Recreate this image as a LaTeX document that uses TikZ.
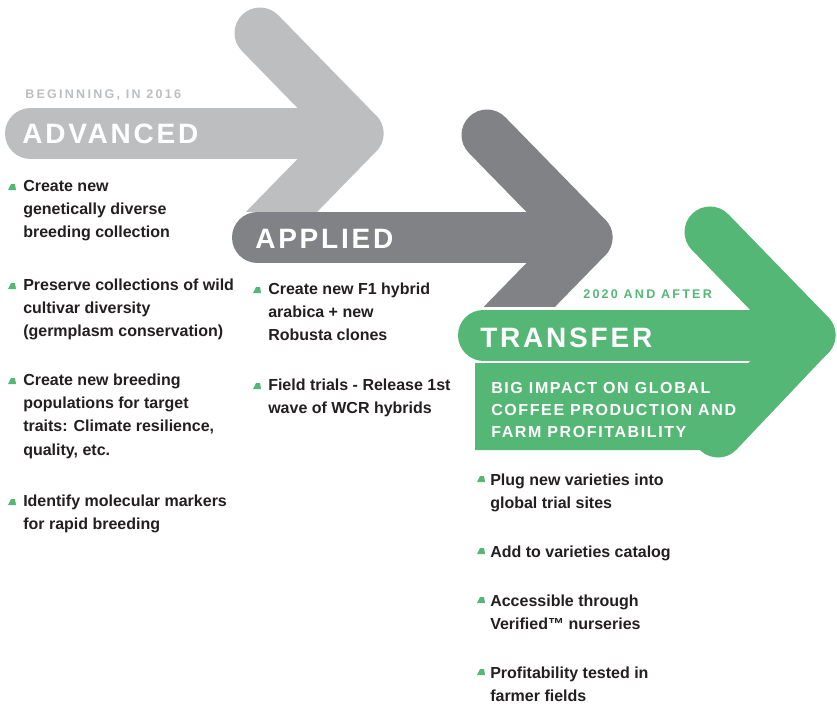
\documentclass[tikz,border=0pt]{standalone}
\usepackage{fontspec}
\setmainfont{Liberation Sans}
\newfontfamily\stagefont{Liberation Sans}[LetterSpace=10]
\newfontfamily\boxfont{Liberation Sans}[LetterSpace=10]
\newfontfamily\tagfont{Liberation Sans}[LetterSpace=18]
\definecolor{lightarrow}{HTML}{BCBEC0}
\definecolor{darkarrow}{HTML}{808285}
\definecolor{greenarrow}{HTML}{55B776}
\definecolor{ink}{HTML}{231F20}
\newcommand\bulletlines[1]{\begin{tabular}[t]{@{}l@{}}#1\end{tabular}}
\begin{document}
\begin{tikzpicture}[x=0.75pt,y=-0.75pt,
  arrowband/.style={line width=38.25pt, line cap=round, line join=round},
  stage/.style={font={\fontsize{21}{21}\selectfont\stagefont\bfseries}, text=white, anchor=base west, inner sep=0},
  tag/.style={font={\fontsize{9.4}{10}\selectfont\tagfont\bfseries}, anchor=base west, inner sep=0},
  boxtext/.style={font={\fontsize{12}{16.9}\selectfont\boxfont\bfseries}, text=white, anchor=base west, inner sep=0},
  bullettext/.style={font={\fontsize{12}{17.6}\selectfont\bfseries}, text=ink, anchor=base west, inner sep=0},
  bulletmark/.pic={\fill[greenarrow] (-4,3) -- (-1,-3) -- (3,-3) -- (4,3) -- cycle;}
]
\useasboundingbox (0,0) rectangle (837,707);
\fill[white] (0,0) rectangle (837,707);

% light grey arrow (ADVANCED)
\begin{scope}
  \clip (0,0) rectangle (837,211);
  \draw[arrowband, lightarrow] (260,33) -- (358,133.5) -- (258,236);
  \draw[arrowband, lightarrow] (30.5,133.5) -- (358,133.5);
\end{scope}

% dark grey arrow (APPLIED)
\begin{scope}
  \clip (0,0) rectangle (837,306);
  \draw[arrowband, darkarrow] (487,135) -- (587,237.5) -- (487,340);
  \draw[arrowband, darkarrow] (257.5,237.5) -- (587,237.5);
\end{scope}

% green arrow (TRANSFER)
\draw[arrowband, greenarrow] (710,232) -- (810,335) -- (718,432);
\draw[arrowband, greenarrow] (483.5,335) -- (810,335);
\fill[greenarrow] (475,363) -- (760,363) -- (725,440) -- (705,450) -- (475,450) -- cycle;

% stage titles and tags
\node[tag, text=lightarrow] (tagadv) at (25,98) {BEGINNING, IN 2016};
\node[stage] (adv) at (22,143) {ADVANCED};
\node[stage] (app) at (255,248) {APPLIED};
\node[tag, text=greenarrow] (tagtra) at (583,298) {2020 AND AFTER};
\node[stage] (tra) at (480,347) {TRANSFER};

% green box text
\node[boxtext] (box1) at (491,393) {BIG IMPACT ON GLOBAL};
\node[boxtext] (box2) at (491,415) {COFFEE PRODUCTION AND};
\node[boxtext] (box3) at (491,437) {FARM PROFITABILITY};

% left column
\pic at (12,187) {bulletmark};
\node[bullettext] (l1) at (23,191) {\bulletlines{Create new\\genetically diverse\\breeding collection}};
\pic at (12,286) {bulletmark};
\node[bullettext] (l2) at (23,290) {\bulletlines{Preserve collections of wild\\cultivar diversity\\(germplasm conservation)}};
\pic at (12,381) {bulletmark};
\node[bullettext] (l3) at (23,385) {\bulletlines{Create new breeding\\populations for target\\traits: Climate resilience,\\quality, etc.}};
\pic at (12,502) {bulletmark};
\node[bullettext] (l4) at (23,506) {\bulletlines{Identify molecular markers\\for rapid breeding}};

% middle column
\pic at (257,290) {bulletmark};
\node[bullettext] (m1) at (268,294) {\bulletlines{Create new F1 hybrid\\arabica + new\\Robusta clones}};
\pic at (257,386) {bulletmark};
\node[bullettext] (m2) at (268,390) {\bulletlines{Field trials - Release 1st\\wave of WCR hybrids}};

% right column
\pic at (481,479) {bulletmark};
\node[bullettext] (r1) at (490,485) {\bulletlines{Plug new varieties into\\global trial sites}};
\pic at (481,551) {bulletmark};
\node[bullettext] (r2) at (490,557) {\bulletlines{Add to varieties catalog}};
\pic at (481,600) {bulletmark};
\node[bullettext] (r3) at (490,606) {\bulletlines{Accessible through\\Verified™ nurseries}};
\pic at (481,672) {bulletmark};
\node[bullettext] (r4) at (490,678) {\bulletlines{Profitability tested in\\farmer fields}};
\end{tikzpicture}
\end{document}
